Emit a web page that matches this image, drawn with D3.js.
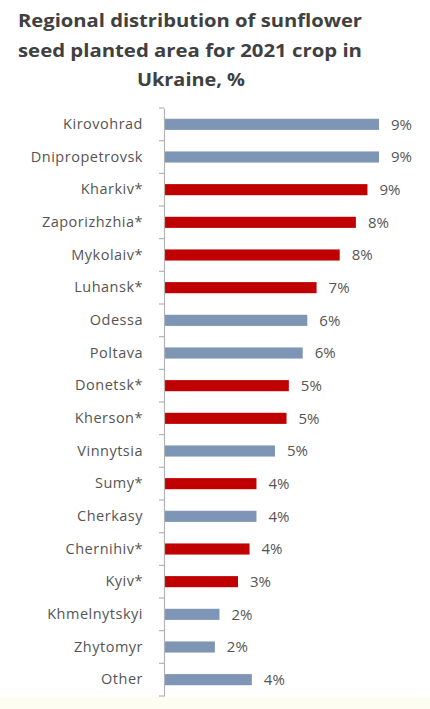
<!DOCTYPE html>
<html>
<head>
<meta charset="utf-8">
<script src="https://cdn.jsdelivr.net/npm/d3@7"></script>
<style>
  html, body { margin: 0; padding: 0; background: #ffffff; }
  svg { display: block; }
</style>
</head>
<body>
<svg id="chart" width="430" height="709"></svg>
<script>
const titleLines = ["Regional distribution of sunflower", "seed planted area for 2021  crop in", "Ukraine, %"];
const regions = ["Kirovohrad", "Dnipropetrovsk", "Kharkiv*", "Zaporizhzhia*", "Mykolaiv*", "Luhansk*", "Odessa", "Poltava", "Donetsk*", "Kherson*", "Vinnytsia", "Sumy*", "Cherkasy", "Chernihiv*", "Kyiv*", "Khmelnytskyi", "Zhytomyr", "Other"];
const shares = [9.3, 9.3, 8.8, 8.3, 7.6, 6.6, 6.2, 6.0, 5.4, 5.3, 4.8, 4.0, 4.0, 3.7, 3.2, 2.4, 2.2, 3.8];
const occupied = [false, false, true, true, true, true, false, false, true, true, false, true, false, true, true, false, false, false];

const svg = d3.select("#chart");
const W = 430, H = 709;

svg.append("rect").attr("x", 0).attr("y", 0).attr("width", W).attr("height", H).attr("fill", "#ffffff");
svg.append("rect").attr("x", 0).attr("y", 697).attr("width", W).attr("height", 12).attr("fill", "#fdfdf2");

const font = "'Open Sans', Lato, sans-serif";

// Title
const title = svg.append("g");
const titleX = [18, 18, 137];
const titleLen = [344, 344, 108];
titleLines.forEach((t, i) => {
  title.append("text")
    .attr("x", titleX[i])
    .attr("y", 27 + i * 29.5)
    .attr("font-family", font)
    .attr("font-weight", "bold")
    .attr("font-size", 17.5)
    .attr("fill", "#404040")
    .attr("textLength", titleLen[i])
    .attr("lengthAdjust", "spacingAndGlyphs")
    .text(t);
});

const x0 = 164;
const x = d3.scaleLinear().domain([0, 9.3]).range([x0, 379]);
const y = d3.scaleBand().domain(regions).range([108, 696]).paddingInner(0.66).paddingOuter(0.33);

// bars
svg.append("g").selectAll("rect")
  .data(regions)
  .join("rect")
  .attr("x", x(0))
  .attr("y", d => y(d))
  .attr("width", (d, i) => x(shares[i]) - x(0))
  .attr("height", y.bandwidth())
  .attr("fill", (d, i) => occupied[i] ? "#c00000" : "#7e95b5");

// axis
const axis = d3.axisLeft(y).tickSize(0).tickPadding(21);
const gAxis = svg.append("g").attr("transform", `translate(${x0},0)`).call(axis);
gAxis.select(".domain").attr("stroke", "#b3b3b3").attr("stroke-width", 1.2);
gAxis.selectAll("text")
  .attr("font-family", font)
  .attr("font-size", 14.5)
  .attr("letter-spacing", "0.5px")
  .attr("fill", "#555555");

// tick marks at band boundaries
const step = y.step();
const boundaries = d3.range(regions.length + 1).map(i => 108 + i * step);
svg.append("g").selectAll("line")
  .data(boundaries)
  .join("line")
  .attr("x1", x0 - 5).attr("x2", x0)
  .attr("y1", d => d).attr("y2", d => d)
  .attr("stroke", "#b3b3b3").attr("stroke-width", 1.2);

// value labels
svg.append("g").selectAll("text")
  .data(regions)
  .join("text")
  .attr("x", (d, i) => x(shares[i]) + 12)
  .attr("y", d => y(d) + y.bandwidth() / 2)
  .attr("dy", "0.36em")
  .attr("font-family", font)
  .attr("font-size", 15)
  .attr("fill", "#555555")
  .text((d, i) => Math.round(shares[i]) + "%");
</script>
</body>
</html>
